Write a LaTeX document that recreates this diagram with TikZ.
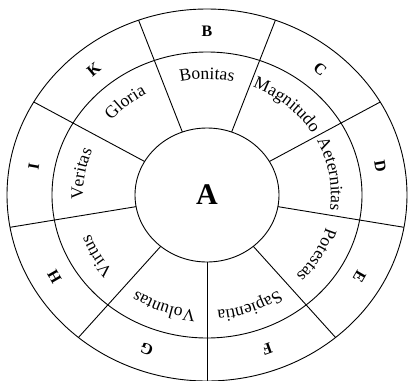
\documentclass[tikz,border=0pt]{standalone}
\usepackage{fontspec}
\setmainfont{Liberation Serif}
\usetikzlibrary{decorations.text}
\newcommand\lbl{\fontsize{17.5}{18}\selectfont}
\newcommand\ringlabel[2]{%
  \pgfmathsetmacro\ra{#1+26}\pgfmathsetmacro\rb{#1-26}%
  \path[decorate,decoration={text along path,text align=center,text={|\lbl|#2}}]
    (\ra:124pt and 116pt) arc[start angle=\ra, end angle=\rb, x radius=124pt, y radius=116pt];}
\tikzset{
  ring/.style={draw=black, line width=0.9pt},
  spoke/.style={draw=black, line width=0.9pt},
  letter/.style={font=\bfseries\fontsize{16}{16}\selectfont, inner sep=0pt},
  centre/.style={font=\bfseries\fontsize{30}{30}\selectfont, inner sep=0pt}
}
\begin{document}
\begin{tikzpicture}[shift={(207pt,-195pt)}]
  \useasboundingbox[fill=white] (-207pt,195pt) rectangle (201pt,-186pt);
  % rings
  \draw[ring] (0,0) ellipse [x radius=200pt, y radius=186pt];
  \draw[ring] (0,0) ellipse [x radius=155pt, y radius=143pt];
  \draw[ring] (0,0) ellipse [x radius=72pt, y radius=67pt];
  % spokes
  \foreach \a in {-90,-50,-10,30,70,110,150,190,230}{
    \coordinate (in\a) at (\a:72pt and 67pt);
    \coordinate (out\a) at (\a:200pt and 186pt);
    \draw[spoke] (in\a) -- (out\a);
  }
  % centre
  \node[centre] (A) at (0,0) {A};
  % outer letters
  \foreach \t/\l in {90/B,50/C,10/D,-30/E,-70/F,-110/G,-150/H,170/I,130/K}{
    \node[letter, rotate=\t-90] (L\l) at (\t:176pt and 164pt) {\l};
  }
  % inner ring labels
  \ringlabel{90}{Bonitas}
  \ringlabel{50}{Magnitudo}
  \ringlabel{10}{Aeternitas}
  \ringlabel{-30}{Potestas}
  \ringlabel{-70}{Sapientia}
  \ringlabel{-110}{Voluntas}
  \ringlabel{-150}{Virtus}
  \ringlabel{170}{Veritas}
  \ringlabel{130}{Gloria}
\end{tikzpicture}
\end{document}
